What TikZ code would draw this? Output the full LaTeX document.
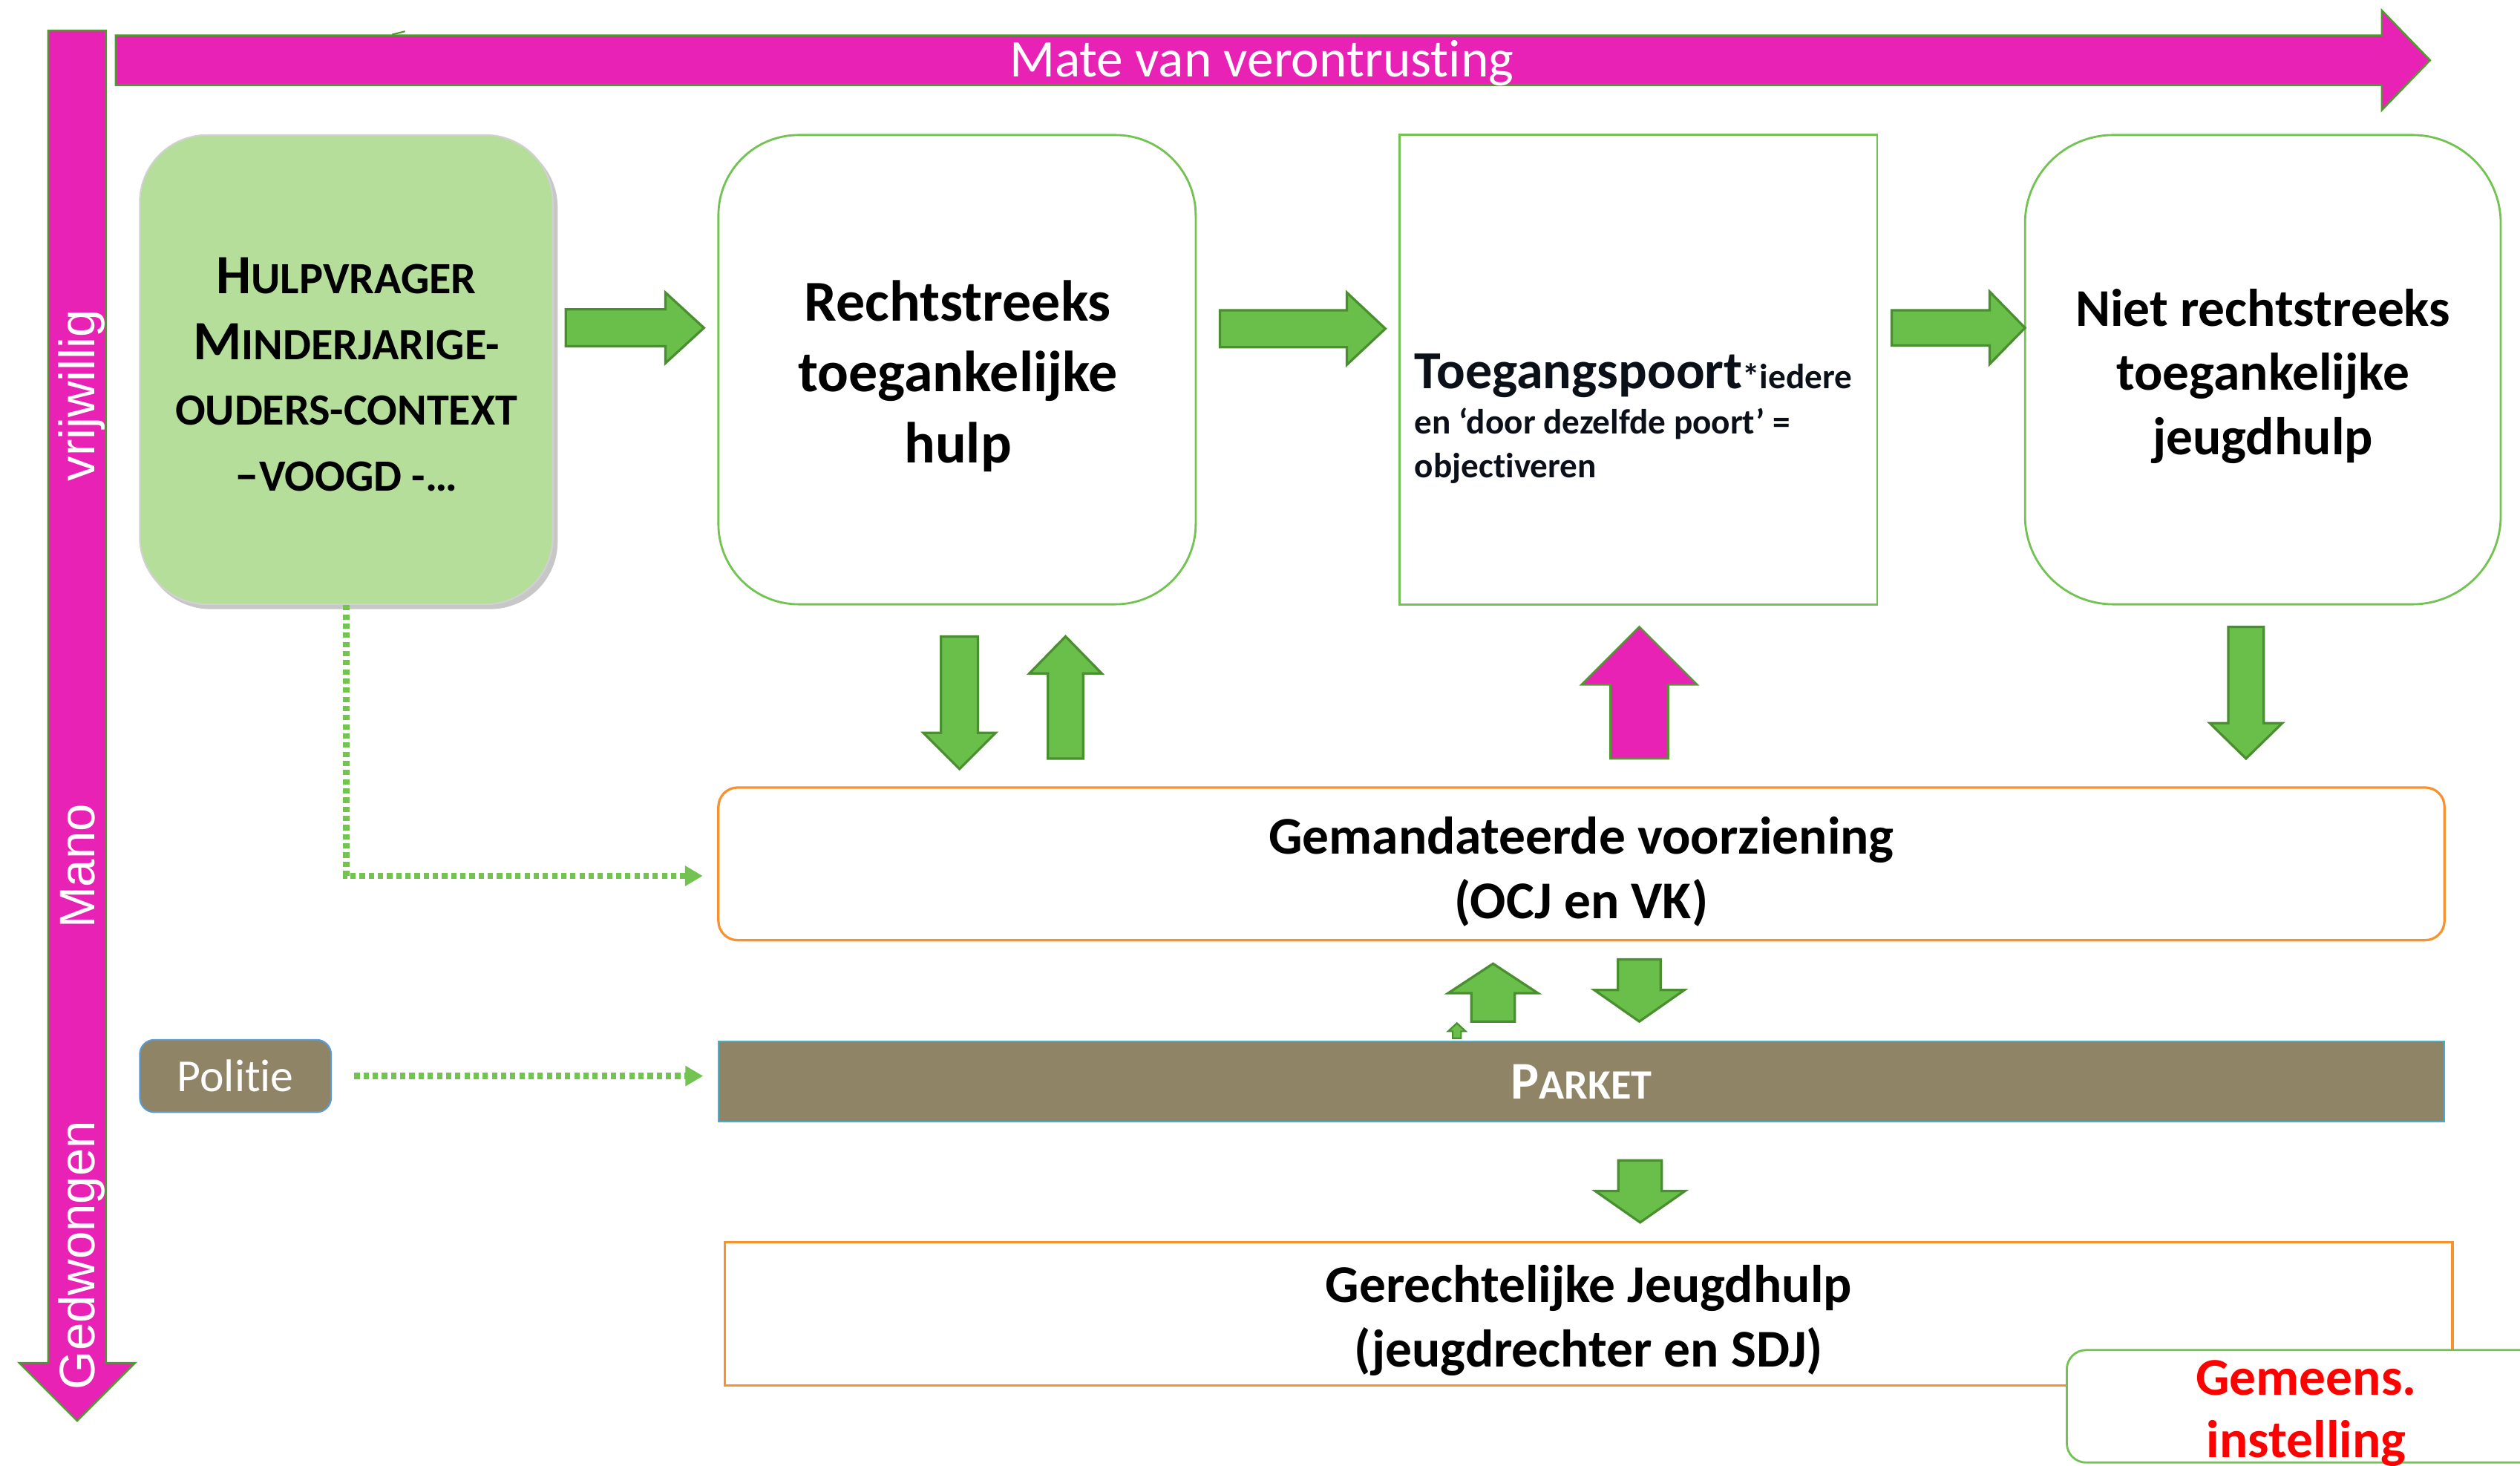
\documentclass[tikz,border=0pt]{standalone}
\usepackage{fontspec}
\setmainfont{Carlito}[Ligatures=NoCommon]
\newfontfamily\arialf{Liberation Sans}
\usetikzlibrary{arrows.meta,calc}
\definecolor{mag}{HTML}{E722B4}
\definecolor{magline}{HTML}{4E9A2E}
\definecolor{agreen}{HTML}{6ABF4B}
\definecolor{agreenline}{HTML}{4A8F2F}
\definecolor{boxgreen}{HTML}{72C352}
\definecolor{hulpfill}{HTML}{B5DE9A}
\definecolor{orng}{HTML}{F7922F}
\definecolor{olive}{HTML}{8F8465}
\definecolor{parkline}{HTML}{4BACC6}
\definecolor{polblue}{HTML}{5B9BD5}
\definecolor{txtdark}{HTML}{0A0F18}
\newcommand{\harrow}[7]{\filldraw[#1] (#2,#5-#6) -- (#4,#5-#6) -- (#4,#5-#7) -- (#3,#5) -- (#4,#5+#7) -- (#4,#5+#6) -- (#2,#5+#6) -- cycle;}
\newcommand{\varrow}[7]{\filldraw[#1] (#2-#6,#3) -- (#2-#6,#5) -- (#2-#7,#5) -- (#2,#4) -- (#2+#7,#5) -- (#2+#6,#5) -- (#2+#6,#3) -- cycle;}
\newcommand{\smc}{\fontsize{27.8}{41}\selectfont}
\begin{document}
\begin{tikzpicture}[x=1pt,y=-1pt,
  magarrow/.style={fill=mag, draw=magline, line width=1.2pt},
  garrow/.style={fill=agreen, draw=agreenline, line width=1.5pt},
  gbox/.style={draw=boxgreen, line width=1.3pt, fill=white, inner sep=0pt},
  obox/.style={draw=orng, line width=1.5pt, fill=white, inner sep=0pt},
  title/.style={font=\fontsize{33}{40}\selectfont\bfseries, align=center, inner sep=0pt},
  vlabel/.style={font=\arialf\fontsize{31}{36}\selectfont, text=white, rotate=90, anchor=base},
  dotconn/.style={draw=boxgreen, line width=4pt, dash pattern=on 3.3pt off 2.4pt, -{Triangle[length=11pt,width=12pt]}}
]
\useasboundingbox (0,0) rectangle (1568,912);
\clip (0,0) rectangle (1568,912);

% axis arrows
\harrow{magarrow}{72}{1512}{1482}{37.5}{15.5}{31}
\varrow{magarrow}{48}{19}{884}{848}{18}{36}
\draw[magline, line width=1pt] (244,21.5) -- (252,19.5);
\node[font=\fontsize{33}{38}\selectfont, text=white] (mate) at (785,39.5) {Mate van verontrusting};
\node[vlabel] (vrij) at (59,246) {vrijwillig};
\node[vlabel] (mano) at (59,539) {Mano};
\node[vlabel] (gedw) at (59,781) {Gedwongen};

% hulpvrager
\fill[black, opacity=0.22, rounded corners=42pt] (89,87) rectangle (347,379);
\node[fill=hulpfill, draw=white!82!black, line width=1pt, rounded corners=42pt, minimum width=257pt, minimum height=292pt, inner sep=0pt] (hulp) at (215.5,230) {};
\node[align=center, inner sep=0pt, font=\fontsize{34.5}{41}\selectfont\bfseries] (hulptxt) at (215.5,233)
  {H{\smc ULPVRAGER}\\M{\smc INDERJARIGE-}\\{\smc OUDERS-CONTEXT}\\{\fontsize{30}{41}\selectfont–}{\smc VOOGD -…}};

% top boxes
\node[gbox, rounded corners=50pt, minimum width=297pt, minimum height=292pt] (recht) at (595.5,230) {};
\node[title, font=\fontsize{36}{44}\selectfont\bfseries] (rechttxt) at (596,234) {Rechtstreeks\\toegankelijke\\hulp};
\node[gbox, minimum width=297pt, minimum height=292pt] (toeg) at (1019.5,230) {};
\node[anchor=base west, inner sep=0pt, text=txtdark, font=\fontsize{33.3}{38}\selectfont\bfseries] (toeg1) at (880,242)
  {Toegangspoort{\fontsize{21.8}{25}\selectfont*iedere}};
\node[anchor=base west, inner sep=0pt, text=txtdark, font=\fontsize{21.8}{25}\selectfont\bfseries] (toeg2) at (880,270) {en ‘door dezelfde poort’ =};
\node[anchor=base west, inner sep=0pt, text=txtdark, font=\fontsize{21.8}{25}\selectfont\bfseries] (toeg3) at (880,297) {objectiveren};
\node[gbox, rounded corners=55pt, minimum width=296pt, minimum height=292pt] (niet) at (1408,230) {};
\node[title] (niettxt) at (1408,234) {Niet rechtstreeks\\toegankelijke\\jeugdhulp};

% horizontal green arrows
\harrow{garrow}{352}{438}{414}{204}{11.5}{22}
\harrow{garrow}{759}{862}{838}{204.5}{11.5}{22.5}
\harrow{garrow}{1177}{1260}{1238}{204}{11}{22.5}

% vertical arrows below top boxes
\varrow{garrow}{597}{396}{478.5}{456}{11.5}{22.5}
\varrow{garrow}{663}{472}{396}{419}{11}{22.5}
\varrow{magarrow}{1020}{472}{390}{426}{18}{36}
\varrow{garrow}{1397.5}{390}{472}{450}{11}{22.5}

% gemandateerde
\node[obox, rounded corners=12pt, minimum width=1074pt, minimum height=95pt] (gem) at (984,537.5) {};
\node[title] (gemtxt) at (984,542.5) {Gemandateerde voorziening\\(OCJ en VK)};

% arrows between gem and parket
\varrow{garrow}{929}{635.6}{599.6}{618}{13.5}{28}
\varrow{garrow}{1020}{597}{635.6}{616}{13.3}{28}
\varrow{garrow, line width=1pt}{906.5}{646}{636.6}{641.7}{2.6}{5.5}

% parket
\node[fill=olive, draw=parkline, line width=1pt, minimum width=1074pt, minimum height=50pt, inner sep=0pt,
  text=white, font=\fontsize{33}{40}\selectfont\bfseries] (parket) at (984,673) {P{\fontsize{26}{40}\selectfont ARKET}};
\node[fill=olive, draw=polblue, line width=1pt, rounded corners=9pt, minimum width=119pt, minimum height=45pt, inner sep=0pt,
  text=white, font=\fontsize{28.5}{34}\selectfont] (pol) at (146.5,669.5) {Politie};

% dotted connectors
\draw[dotconn, shorten >=9pt] (hulp.south) |- ($(gem.west)+(0,7.5)$);
\draw[dotconn, shorten <=14pt, shorten >=9pt] (pol.east) -- (pol.east -| parket.west);

\varrow{garrow}{1020.5}{722}{760.6}{741}{13.5}{28}

% gerechtelijke
\node[obox, minimum width=1075pt, minimum height=89pt] (ger) at (988.5,817.5) {};
\node[title] (gertxt) at (988.5,821.5) {Gerechtelijke Jeugdhulp\\(jeugdrechter en SDJ)};
\node[gbox, rounded corners=12pt, minimum width=298pt, minimum height=70pt] (gemeens) at (1435,875) {};
\node[title, text=red, font=\fontsize{33}{39}\selectfont\bfseries] (gemeenstxt) at (1435,879.5) {Gemeens.\\instelling};
\end{tikzpicture}
\end{document}
